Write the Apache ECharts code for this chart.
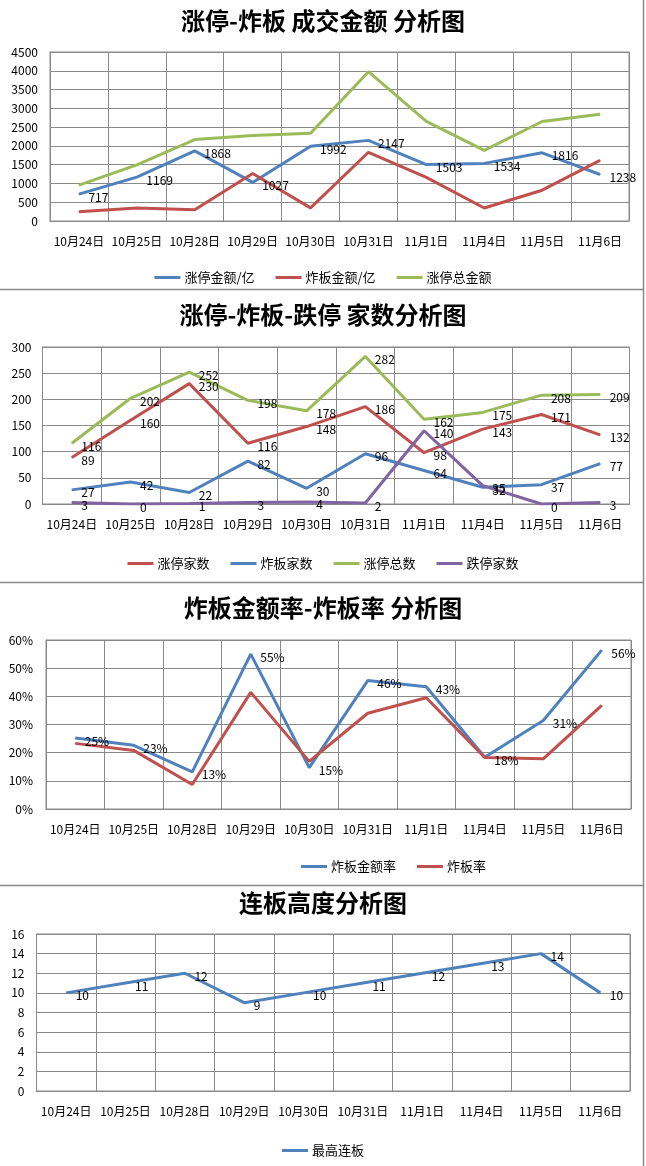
<!DOCTYPE html>
<html><head><meta charset="utf-8">
<script src="https://cdn.jsdelivr.net/npm/echarts@6/dist/echarts.min.js"></script>
<style>html,body{margin:0;padding:0;background:#fff}#c{width:646px;height:1166px}</style>
</head><body><div id="c"></div>
<script>
const categories = ['10月24日','10月25日','10月28日','10月29日','10月30日','10月31日','11月1日','11月4日','11月5日','11月6日'];
// chart 1: amounts
const ztAmount = [717,1169,1868,1027,1992,2147,1503,1534,1816,1238];
const zbAmount = [245,345,300,1265,350,1830,1160,345,820,1615];
const ztTotalAmount = [955,1495,2170,2275,2335,3975,2655,1880,2650,2845];
// chart 2: counts
const ztCount = [89,160,230,116,148,186,98,143,171,132];
const zbCount = [27,42,22,82,30,96,64,32,37,77];
const ztTotal = [116,202,252,198,178,282,162,175,208,209];
const dtCount = [3,0,1,3,4,2,140,35,0,3];
// chart 3: rates
const zbAmountRate = [0.252,0.226,0.132,0.55,0.147,0.456,0.434,0.184,0.314,0.564];
const zbRate = [0.233,0.208,0.087,0.414,0.169,0.340,0.395,0.183,0.178,0.368];
// chart 4: height
const maxBoard = [10,11,12,9,10,11,12,13,14,10];

const FONT = '"Noto Sans CJK SC", sans-serif';
const GRID_C = '#8a8a8a';
const BLUE = '#4F81BD', RED = '#C0504D', GREEN = '#9BBB59', PURPLE = '#8064A2';

const grids = [
  {left:50, top:52, width:579, height:169},
  {left:42.5, top:347, width:587, height:157},
  {left:46, top:640, width:585, height:169},
  {left:36.5, top:934, width:593.5, height:157}
];
const yCfg = [
  {min:0,max:4500,interval:500,margin:12,fmt:v=>String(v)},
  {min:0,max:300,interval:50,margin:11,fmt:v=>String(v)},
  {min:0,max:0.6,interval:0.1,margin:13,fmt:v=>Math.round(v*100)+'%'},
  {min:0,max:16,interval:2,margin:12,fmt:v=>String(v)}
];

const xAxis = grids.map((g,i)=>({
  type:'category', gridIndex:i, data:categories, boundaryGap:true,
  axisLine:{show:true,lineStyle:{color:GRID_C,width:1}},
  axisTick:{show:false},
  axisLabel:{interval:0,color:'#000',fontFamily:FONT,fontSize:12,margin:14},
  splitLine:{show:true,lineStyle:{color:GRID_C,width:1}}
}));
const yAxis = yCfg.map((c,i)=>({
  type:'value', gridIndex:i, min:c.min, max:c.max, interval:c.interval,
  axisLine:{show:true,lineStyle:{color:GRID_C,width:1}},
  axisTick:{show:false},
  axisLabel:{color:'#000',fontFamily:FONT,fontSize:12,margin:c.margin,formatter:c.fmt},
  splitLine:{show:true,lineStyle:{color:GRID_C,width:1}}
}));

function line(name, data, color, idx, showLabel, fmt){
  return {
    name, type:'line', data, xAxisIndex:idx, yAxisIndex:idx,
    symbol:'circle', symbolSize:1, showSymbol:true,
    lineStyle:{color, width:3}, itemStyle:{color},
    label:{show:!!showLabel, position:'right', distance:9, offset:[0,3], color:'#000',
      fontFamily:FONT, fontSize:12,
      formatter: fmt || (p=>String(p.value))},
    emphasis:{disabled:true}, animation:false
  };
}
const pct = p=>Math.round(p.value*100)+'%';

const legendBase = {
  icon:'rect', itemWidth:26, itemHeight:3, itemGap:21,
  textStyle:{color:'#000',fontFamily:FONT,fontSize:13, padding:[0,0,0,-1]}
};

const titleStyle = {color:'#000',fontFamily:FONT,fontSize:24,fontWeight:'bold'};

const option = {
  backgroundColor:'#fff',
  animation:false,
  title:[
    {text:'涨停-炸板 成交金额 分析图', left:'center', top:4, textStyle:titleStyle},
    {text:'涨停-炸板-跌停 家数分析图', left:'center', top:298, textStyle:titleStyle},
    {text:'炸板金额率-炸板率 分析图', left:'center', top:591, textStyle:titleStyle},
    {text:'连板高度分析图', left:'center', top:886, textStyle:titleStyle}
  ],
  legend:[
    Object.assign({data:['涨停金额/亿','炸板金额/亿','涨停总金额'], left:'center', top:266}, legendBase),
    Object.assign({data:['涨停家数','炸板家数','涨停总数','跌停家数'], left:'center', top:552}, legendBase),
    Object.assign({data:['炸板金额率','炸板率'], left:296, top:855}, legendBase),
    Object.assign({data:['最高连板'], left:'center', top:1139}, legendBase)
  ],
  grid: grids.map(g=>Object.assign({show:true,borderColor:GRID_C,borderWidth:1,backgroundColor:'transparent'},g)),
  xAxis, yAxis,
  series:[
    line('涨停金额/亿', ztAmount, BLUE, 0, true),
    line('炸板金额/亿', zbAmount, RED, 0, false),
    line('涨停总金额', ztTotalAmount, GREEN, 0, false),
    line('涨停家数', ztCount, RED, 1, true),
    line('炸板家数', zbCount, BLUE, 1, true),
    line('涨停总数', ztTotal, GREEN, 1, true),
    line('跌停家数', dtCount, PURPLE, 1, true),
    line('炸板金额率', zbAmountRate, BLUE, 2, true, pct),
    line('炸板率', zbRate, RED, 2, false),
    line('最高连板', maxBoard, BLUE, 3, true)
  ],
  graphic:[
    {type:'line', shape:{x1:0,y1:289.5,x2:644,y2:289.5}, style:{stroke:'#888',lineWidth:1.5}},
    {type:'line', shape:{x1:0,y1:582.5,x2:644,y2:582.5}, style:{stroke:'#888',lineWidth:1.5}},
    {type:'line', shape:{x1:0,y1:885.5,x2:644,y2:885.5}, style:{stroke:'#888',lineWidth:1.5}},
    {type:'line', shape:{x1:643.5,y1:0,x2:643.5,y2:1166}, style:{stroke:'#888',lineWidth:1.5}}
  ]
};
const chart = echarts.init(document.getElementById('c'), null, {renderer:'canvas'});
chart.setOption(option);
</script></body></html>
